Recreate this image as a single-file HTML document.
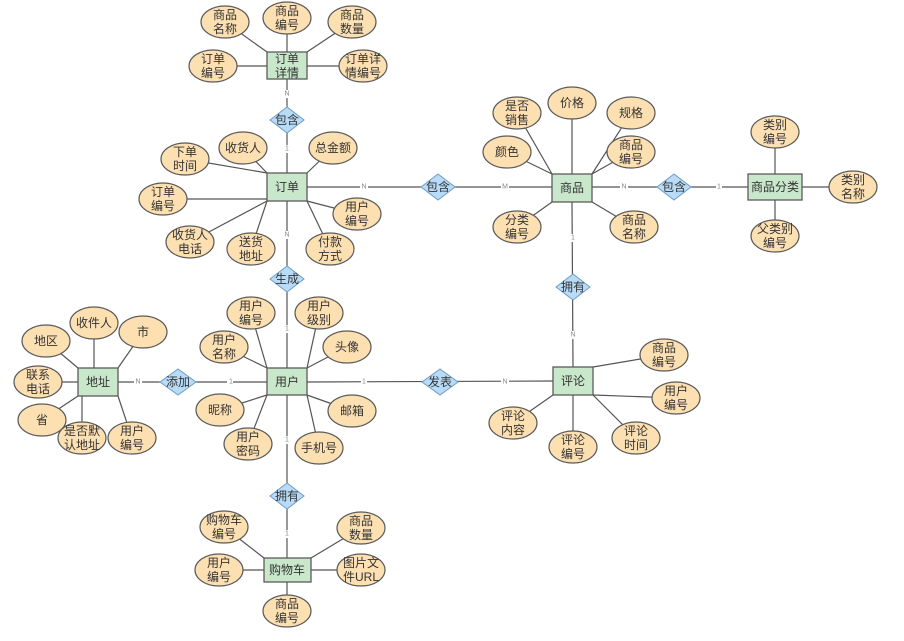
<!DOCTYPE html>
<html><head><meta charset="utf-8"><style>
html,body{margin:0;padding:0;background:#fff;}
svg{display:block;font-family:"Liberation Sans","Noto Sans CJK SC",sans-serif;}
.e{fill:#fde0b2;stroke:#5a5a5a;stroke-width:1.2;rx:24px;ry:16px}
.r{fill:#c9e7cb;stroke:#5a5a5a;stroke-width:1.3}
.d{fill:#b8dcf8;stroke:#6f9cc4;stroke-width:1}
text{font-size:12px;fill:#333;text-anchor:middle;dominant-baseline:central}
.c{font-size:7px;fill:#888}
line{stroke:#555;stroke-width:1.2}
</style></head><body>
<svg id="s" width="904" height="641" viewBox="0 0 904 641">
<g id="lines"></g>
<g id="rels"></g>
<g id="shapes"></g>
</svg>
<script>
var NS="http://www.w3.org/2000/svg";
function el(t,a,p){var e=document.createElementNS(NS,t);for(var k in a)e.setAttribute(k,a[k]);document.getElementById(p).appendChild(e);return e;}
var R={
od:[267,52,40,27],o:[267,173,40,28],u:[267,368,40,27],a:[78,368,40,28],c:[264,558,47,24],
p:[552,174,40,28],pc:[748,174,54,26],cm:[553,367,40,28]};
var E={od:[[225,22],[287,18],[352,22],[213,66],[363,66]],
o:[[243,148],[333,148],[185,159],[163,199],[190,242],[251,249],[330,249],[357,214]],
u:[[251,313],[319,313],[224,347],[347,347],[220,410],[352,411],[248,444],[319,448]],
a:[[46,341],[94,323],[143,332],[38,382],[42,420],[82,438],[132,438]],
c:[[224,527],[361,528],[219,570],[361,570],[287,611]],
p:[[517,113],[572,103],[631,113],[507,152],[631,152],[517,227],[634,227]],
pc:[[775,132],[853,187],[775,236]],
cm:[[664,355],[676,398],[513,423],[573,447],[636,438]]};
for(var k in E){var r=R[k];E[k].forEach(function(c){
var x=Math.max(r[0],Math.min(r[0]+r[2],c[0])),y=Math.max(r[1],Math.min(r[1]+r[3],c[1]));
el("line",{x1:c[0],y1:c[1],x2:x,y2:y},"lines");});}
[[287,79,287,173],[307,187,552,187],[287,201,287,368],[118,382,267,382],[307,382,553,381],[287,395,287,558],[572,202,573,367],[592,187,748,187]].forEach(function(l){el("line",{x1:l[0],y1:l[1],x2:l[2],y2:l[3]},"lines");});
</script>
<svg width="904" height="641" style="position:absolute;left:0;top:0" viewBox="0 0 904 641">
<g>
<rect x="284" y="90" width="6" height="8" fill="#fff"/><text class="c" x="287" y="94">N</text>
<rect x="284" y="145" width="6" height="8" fill="#fff"/><text class="c" x="287" y="149">1</text>
<rect x="360" y="183" width="8" height="8" fill="#fff"/><text class="c" x="364" y="187">N</text>
<rect x="501" y="183" width="8" height="8" fill="#fff"/><text class="c" x="505" y="187">M</text>
<rect x="284" y="231" width="6" height="8" fill="#fff"/><text class="c" x="287" y="235">N</text>
<rect x="284" y="325" width="6" height="8" fill="#fff"/><text class="c" x="287" y="329">1</text>
<rect x="134" y="378" width="8" height="8" fill="#fff"/><text class="c" x="138" y="382">N</text>
<rect x="227" y="378" width="6" height="8" fill="#fff"/><text class="c" x="231" y="382">1</text>
<rect x="361" y="378" width="6" height="8" fill="#fff"/><text class="c" x="364" y="382">1</text>
<rect x="501" y="378" width="8" height="8" fill="#fff"/><text class="c" x="505" y="382">N</text>
<rect x="284" y="436" width="6" height="8" fill="#fff"/><text class="c" x="287" y="440">1</text>
<rect x="284" y="530" width="6" height="8" fill="#fff"/><text class="c" x="287" y="534">1</text>
<rect x="570" y="234" width="6" height="8" fill="#fff"/><text class="c" x="573" y="238">1</text>
<rect x="569" y="331" width="8" height="8" fill="#fff"/><text class="c" x="573" y="335">N</text>
<rect x="620" y="183" width="8" height="8" fill="#fff"/><text class="c" x="624" y="187">N</text>
<rect x="716" y="183" width="6" height="8" fill="#fff"/><text class="c" x="719" y="187">1</text>
</g>
<g>
<polygon class="d" points="270,120 287,107 304,120 287,133"/><text x="287" y="120">包含</text>
<polygon class="d" points="421,187 438,174 455,187 438,200"/><text x="438" y="187">包含</text>
<polygon class="d" points="270,279 287,266 304,279 287,292"/><text x="287" y="279">生成</text>
<polygon class="d" points="160,382 178,369 196,382 178,395"/><text x="178" y="382">添加</text>
<polygon class="d" points="422,382 440,369 458,382 440,395"/><text x="440" y="382">发表</text>
<polygon class="d" points="270,496 287,483 304,496 287,509"/><text x="287" y="496">拥有</text>
<polygon class="d" points="556,287 573,274 590,287 573,300"/><text x="573" y="287">拥有</text>
<polygon class="d" points="657,187 674,174 691,187 674,200"/><text x="674" y="187">包含</text>
</g>
<g>
<rect class="r" x="267" y="52" width="40" height="27"/><text x="287" y="59">订单</text><text x="287" y="73">详情</text>
<rect class="r" x="267" y="173" width="40" height="28"/><text x="287" y="187">订单</text>
<rect class="r" x="267" y="368" width="40" height="27"/><text x="287" y="382">用户</text>
<rect class="r" x="78" y="368" width="40" height="28"/><text x="98" y="382">地址</text>
<rect class="r" x="264" y="558" width="47" height="24"/><text x="287" y="570">购物车</text>
<rect class="r" x="552" y="174" width="40" height="28"/><text x="572" y="188">商品</text>
<rect class="r" x="748" y="174" width="54" height="26"/><text x="775" y="187">商品分类</text>
<rect class="r" x="553" y="367" width="40" height="28"/><text x="573" y="381">评论</text>
</g>
<g>
<ellipse class="e" cx="225" cy="22" rx="24" ry="16"/><text x="225" y="15">商品</text><text x="225" y="29">名称</text>
<ellipse class="e" cx="287" cy="18" rx="24" ry="16"/><text x="287" y="11">商品</text><text x="287" y="25">编号</text>
<ellipse class="e" cx="352" cy="22" rx="24" ry="16"/><text x="352" y="15">商品</text><text x="352" y="29">数量</text>
<ellipse class="e" cx="213" cy="66" rx="24" ry="16"/><text x="213" y="59">订单</text><text x="213" y="73">编号</text>
<ellipse class="e" cx="363" cy="66" rx="24" ry="16"/><text x="363" y="59">订单详</text><text x="363" y="73">情编号</text>

<ellipse class="e" cx="243" cy="148" rx="24" ry="16"/><text x="243" y="148">收货人</text>
<ellipse class="e" cx="333" cy="148" rx="24" ry="16"/><text x="333" y="148">总金额</text>
<ellipse class="e" cx="185" cy="159" rx="24" ry="16"/><text x="185" y="152">下单</text><text x="185" y="166">时间</text>
<ellipse class="e" cx="163" cy="199" rx="24" ry="16"/><text x="163" y="192">订单</text><text x="163" y="206">编号</text>
<ellipse class="e" cx="190" cy="242" rx="24" ry="16"/><text x="190" y="235">收货人</text><text x="190" y="249">电话</text>
<ellipse class="e" cx="251" cy="249" rx="24" ry="16"/><text x="251" y="242">送货</text><text x="251" y="256">地址</text>
<ellipse class="e" cx="330" cy="249" rx="24" ry="16"/><text x="330" y="242">付款</text><text x="330" y="256">方式</text>
<ellipse class="e" cx="357" cy="214" rx="24" ry="16"/><text x="357" y="207">用户</text><text x="357" y="221">编号</text>

<ellipse class="e" cx="251" cy="313" rx="24" ry="16"/><text x="251" y="306">用户</text><text x="251" y="320">编号</text>
<ellipse class="e" cx="319" cy="313" rx="24" ry="16"/><text x="319" y="306">用户</text><text x="319" y="320">级别</text>
<ellipse class="e" cx="224" cy="347" rx="24" ry="16"/><text x="224" y="340">用户</text><text x="224" y="354">名称</text>
<ellipse class="e" cx="347" cy="347" rx="24" ry="16"/><text x="347" y="347">头像</text>
<ellipse class="e" cx="220" cy="410" rx="24" ry="16"/><text x="220" y="410">昵称</text>
<ellipse class="e" cx="352" cy="411" rx="24" ry="16"/><text x="352" y="411">邮箱</text>
<ellipse class="e" cx="248" cy="444" rx="24" ry="16"/><text x="248" y="437">用户</text><text x="248" y="451">密码</text>
<ellipse class="e" cx="319" cy="448" rx="24" ry="16"/><text x="319" y="448">手机号</text>

<ellipse class="e" cx="46" cy="341" rx="24" ry="16"/><text x="46" y="341">地区</text>
<ellipse class="e" cx="94" cy="323" rx="24" ry="16"/><text x="94" y="323">收件人</text>
<ellipse class="e" cx="143" cy="332" rx="24" ry="16"/><text x="143" y="332">市</text>
<ellipse class="e" cx="38" cy="382" rx="24" ry="16"/><text x="38" y="375">联系</text><text x="38" y="389">电话</text>
<ellipse class="e" cx="42" cy="420" rx="24" ry="16"/><text x="42" y="420">省</text>
<ellipse class="e" cx="82" cy="438" rx="24" ry="16"/><text x="82" y="431">是否默</text><text x="82" y="445">认地址</text>
<ellipse class="e" cx="132" cy="438" rx="24" ry="16"/><text x="132" y="431">用户</text><text x="132" y="445">编号</text>

<ellipse class="e" cx="224" cy="527" rx="24" ry="16"/><text x="224" y="520">购物车</text><text x="224" y="534">编号</text>
<ellipse class="e" cx="361" cy="528" rx="24" ry="16"/><text x="361" y="521">商品</text><text x="361" y="535">数量</text>
<ellipse class="e" cx="219" cy="570" rx="24" ry="16"/><text x="219" y="563">用户</text><text x="219" y="577">编号</text>
<ellipse class="e" cx="361" cy="570" rx="24" ry="16"/><text x="361" y="563">图片文</text><text x="361" y="577">件URL</text>
<ellipse class="e" cx="287" cy="611" rx="24" ry="16"/><text x="287" y="604">商品</text><text x="287" y="618">编号</text>

<ellipse class="e" cx="517" cy="113" rx="24" ry="16"/><text x="517" y="106">是否</text><text x="517" y="120">销售</text>
<ellipse class="e" cx="572" cy="103" rx="24" ry="16"/><text x="572" y="103">价格</text>
<ellipse class="e" cx="631" cy="113" rx="24" ry="16"/><text x="631" y="113">规格</text>
<ellipse class="e" cx="507" cy="152" rx="24" ry="16"/><text x="507" y="152">颜色</text>
<ellipse class="e" cx="631" cy="152" rx="24" ry="16"/><text x="631" y="145">商品</text><text x="631" y="159">编号</text>
<ellipse class="e" cx="517" cy="227" rx="24" ry="16"/><text x="517" y="220">分类</text><text x="517" y="234">编号</text>
<ellipse class="e" cx="634" cy="227" rx="24" ry="16"/><text x="634" y="220">商品</text><text x="634" y="234">名称</text>

<ellipse class="e" cx="775" cy="132" rx="24" ry="16"/><text x="775" y="125">类别</text><text x="775" y="139">编号</text>
<ellipse class="e" cx="853" cy="187" rx="24" ry="16"/><text x="853" y="180">类别</text><text x="853" y="194">名称</text>
<ellipse class="e" cx="775" cy="236" rx="24" ry="16"/><text x="775" y="229">父类别</text><text x="775" y="243">编号</text>

<ellipse class="e" cx="664" cy="355" rx="24" ry="16"/><text x="664" y="348">商品</text><text x="664" y="362">编号</text>
<ellipse class="e" cx="676" cy="398" rx="24" ry="16"/><text x="676" y="391">用户</text><text x="676" y="405">编号</text>
<ellipse class="e" cx="513" cy="423" rx="24" ry="16"/><text x="513" y="416">评论</text><text x="513" y="430">内容</text>
<ellipse class="e" cx="573" cy="447" rx="24" ry="16"/><text x="573" y="440">评论</text><text x="573" y="454">编号</text>
<ellipse class="e" cx="636" cy="438" rx="24" ry="16"/><text x="636" y="431">评论</text><text x="636" y="445">时间</text>
</g>
</svg>
</body></html>
